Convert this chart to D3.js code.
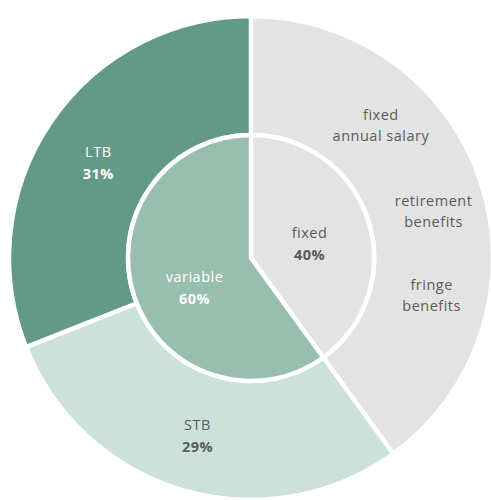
<!DOCTYPE html>
<html>
<head>
<meta charset="utf-8">
<script src="https://cdn.jsdelivr.net/npm/d3@7/dist/d3.min.js"></script>
<style>
  body { margin: 0; background: #fff; }
  svg text { font-family: "Open Sans", sans-serif; font-size: 14.5px; letter-spacing: 0.5px; }
</style>
</head>
<body>
<svg id="chart" width="491" height="500"></svg>
<script>
// outer ring
var outerNames = ['fixed', 'STB', 'LTB']
var outerValues = [40, 29, 31]
var outerShowLabel = [false, true, true]
// inner pie
var innerNames = ['fixed', 'variable']
var innerValues = [40, 60]
// sub labels of the fixed part
var fixedParts = [['fixed', 'annual salary'], ['retirement', 'benefits'], ['fringe', 'benefits']]

var colors = { fixed: '#e2e3e2', STB: '#cce1da', LTB: '#639a87', variable: '#98beaf' }
var textColor = { fixed: '#5b5b5b', STB: '#5b5b5b', LTB: '#ffffff', variable: '#ffffff' }

var cx = 251, cy = 258, R = 242, r0 = 123

var svg = d3.select('#chart')
var g = svg.append('g').attr('transform', 'translate(' + cx + ',' + cy + ')')

var pie = d3.pie().sort(null).value(function (d) { return d.v })

var outerArcs = pie(outerNames.map(function (n, i) { return { n: n, v: outerValues[i], show: outerShowLabel[i] } }))
var innerArcs = pie(innerNames.map(function (n, i) { return { n: n, v: innerValues[i] } }))

var outerArc = d3.arc().innerRadius(r0).outerRadius(R)
var innerArc = d3.arc().innerRadius(0).outerRadius(r0)
var outerLabelArc = d3.arc().innerRadius(181).outerRadius(181)

g.selectAll('path.outer').data(outerArcs).enter().append('path')
  .attr('class', 'outer')
  .attr('d', outerArc)
  .attr('fill', function (d) { return colors[d.data.n] })
  .attr('stroke', '#fff').attr('stroke-width', 4.5)

g.selectAll('path.inner').data(innerArcs).enter().append('path')
  .attr('class', 'inner')
  .attr('d', innerArc)
  .attr('fill', function (d) { return colors[d.data.n] })
  .attr('stroke', '#fff').attr('stroke-width', 4.5)

/** two-line labels: name + bold percent */
function addLabel (x, y, name, pct, col) {
  var t = g.append('text').attr('text-anchor', 'middle').attr('fill', col)
  t.append('tspan').attr('x', x).attr('y', y).text(name)
  t.append('tspan').attr('x', x).attr('y', y + 22).attr('font-weight', 'bold').text(pct + '%')
}

var nudge = { STB: [-3, -2], LTB: [-3, 1], fixed: [0, -1], variable: [2, 5] }

outerArcs.filter(function (d) { return d.data.show }).forEach(function (d) {
  var c = outerLabelArc.centroid(d), o = nudge[d.data.n]
  addLabel(c[0] + o[0], c[1] + o[1], d.data.n, d.data.v, textColor[d.data.n])
})

innerArcs.forEach(function (d) {
  var c = innerArc.centroid(d), o = nudge[d.data.n]
  addLabel(c[0] + o[0], c[1] + o[1], d.data.n, d.data.v, textColor[d.data.n])
})

/** sub labels spread over the fixed segment */
var subAngles = [44, 75, 101]
fixedParts.forEach(function (p, i) {
  var a = subAngles[i] * Math.PI / 180
  var rr = [187, 189, 184][i]
  var x = Math.sin(a) * rr, y = -Math.cos(a) * rr
  var t = g.append('text').attr('text-anchor', 'middle').attr('fill', textColor.fixed)
  t.append('tspan').attr('x', x).attr('y', y - 3).text(p[0])
  t.append('tspan').attr('x', x).attr('y', y + 18).text(p[1])
})
</script>
</body>
</html>
